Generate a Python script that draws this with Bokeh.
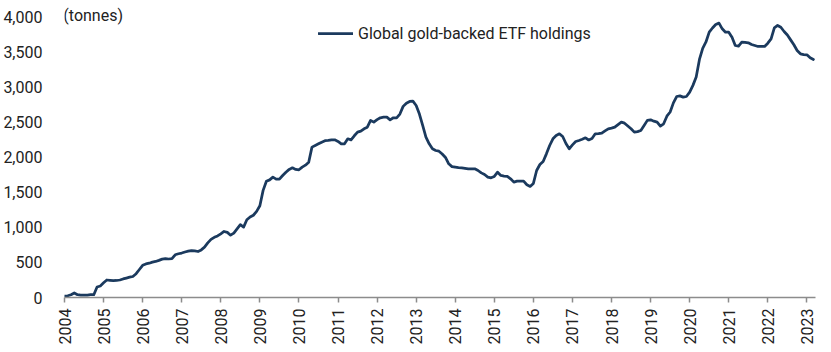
from bokeh.plotting import figure
from bokeh.models import (ColumnDataSource, FixedTicker, NumeralTickFormatter,
                          Legend, LegendItem, Label, Range1d)
from bokeh.embed import file_html
from bokeh.resources import INLINE
import math

# Monthly global gold-backed ETF holdings (tonnes), Jan 2004 - Mar 2023
start_year = 2004
holdings = [
    # 2004
    20, 25, 40, 65, 40, 35, 35, 35, 40, 40, 150, 165,
    # 2005
    210, 250, 245, 240, 243, 250, 265, 277, 290, 300, 340, 400,
    # 2006
    460, 480, 490, 505, 515, 530, 548, 555, 550, 555, 610, 625,
    # 2007
    635, 650, 662, 671, 665, 657, 680, 719, 780, 830, 860, 880,
    # 2008
    910, 943, 930, 890, 920, 980, 1040, 1005, 1110, 1150, 1175, 1230,
    # 2009
    1310, 1530, 1660, 1680, 1719, 1690, 1690, 1743, 1790, 1830, 1852, 1830,
    # 2010
    1824, 1862, 1890, 1933, 2148, 2171, 2195, 2219, 2240, 2243, 2250, 2252,
    # 2011
    2230, 2195, 2195, 2267, 2252, 2310, 2362, 2376, 2410, 2433, 2529, 2505,
    # 2012
    2540, 2567, 2576, 2576, 2538, 2567, 2567, 2620, 2730, 2776, 2800, 2805,
    # 2013
    2743, 2620, 2457, 2290, 2195, 2124, 2100, 2090, 2050, 2000, 1910, 1870,
    # 2014
    1862, 1855, 1852, 1845, 1838, 1838, 1838, 1814, 1780, 1757, 1720, 1710,
    # 2015
    1729, 1790, 1743, 1735, 1729, 1695, 1648, 1662, 1662, 1662, 1610, 1586,
    # 2016
    1630, 1814, 1900, 1943, 2052, 2171, 2267, 2314, 2338, 2300, 2200, 2124,
    # 2017
    2180, 2229, 2243, 2260, 2281, 2250, 2270, 2338, 2340, 2348, 2380, 2410,
    # 2018
    2420, 2433, 2470, 2505, 2490, 2450, 2410, 2362, 2370, 2386, 2457, 2530,
    # 2019
    2538, 2519, 2505, 2448, 2481, 2590, 2650, 2780, 2871, 2880, 2862, 2871,
    # 2020
    2933, 3030, 3148, 3400, 3560, 3650, 3790, 3850, 3900, 3919, 3838, 3790,
    # 2021
    3790, 3719, 3600, 3590, 3648, 3645, 3638, 3614, 3600, 3586, 3586, 3586,
    # 2022
    3633, 3695, 3852, 3886, 3860, 3800, 3750, 3680, 3610, 3529, 3481, 3470,
    # 2023
    3467, 3424, 3400,
]
year_ticks = list(range(2004, 2024))
value_ticks = list(range(0, 4001, 500))
series_name = "Global gold-backed ETF holdings"
unit_label = "(tonnes)"

months = [start_year + i / 12.0 for i in range(len(holdings))]
source = ColumnDataSource(data=dict(x=months, y=holdings))

FONT = "Roboto"
TEXT = "#222222"
LINE = "#1b3a5e"
AXIS = "#8c8c8c"

# frame: 0 at y=297px, 4000 at y=17px (0.07 px per tonne); top extended to y=5px
p = figure(width=831, height=352, output_backend="svg", toolbar_location=None,
           x_range=Range1d(2004.0, 2023.22), y_range=Range1d(0, 4171),
           min_border_left=61, min_border_right=16, min_border_top=5,
           min_border_bottom=55)
p.outline_line_color = None
p.xgrid.grid_line_color = None
p.ygrid.grid_line_color = None
p.background_fill_color = "white"
p.border_fill_color = "white"

r = p.line("x", "y", source=source, line_color=LINE, line_width=2.75,
           line_join="round", line_cap="round")

# x axis
xa = p.xaxis[0]
xa.ticker = FixedTicker(ticks=year_ticks)
xa.major_label_overrides = {y: str(y) for y in year_ticks}
xa.major_label_orientation = math.pi / 2
xa.axis_line_color = AXIS
xa.axis_line_width = 1.5
xa.major_tick_line_color = AXIS
xa.major_tick_line_width = 1.5
xa.major_tick_in = 0
xa.major_tick_out = 5
xa.minor_tick_line_color = None
xa.major_label_standoff = 6
xa.major_label_text_font = FONT
xa.major_label_text_font_size = "16px"
xa.major_label_text_color = TEXT

# y axis
ya = p.yaxis[0]
ya.ticker = FixedTicker(ticks=value_ticks)
ya.formatter = NumeralTickFormatter(format="0,0")
ya.axis_line_color = None
ya.major_tick_line_color = None
ya.minor_tick_line_color = None
ya.major_label_standoff = 16
ya.major_label_text_font = FONT
ya.major_label_text_font_size = "16px"
ya.major_label_text_color = TEXT

legend = Legend(items=[LegendItem(label=series_name, renderers=[r])],
                location=(254, 254), orientation="horizontal",
                padding=0, margin=0, glyph_width=35, glyph_height=20,
                label_standoff=5, border_line_color=None,
                background_fill_alpha=0,
                label_text_font=FONT, label_text_font_size="16px",
                label_text_color=TEXT)
p.add_layout(legend, "center")

p.add_layout(Label(x=2003.97, y=4030, text=unit_label, text_font=FONT,
                   text_font_size="16px", text_color=TEXT,
                   text_align="left", text_baseline="middle"))

open("out.html", "w").write(file_html(p, INLINE))
